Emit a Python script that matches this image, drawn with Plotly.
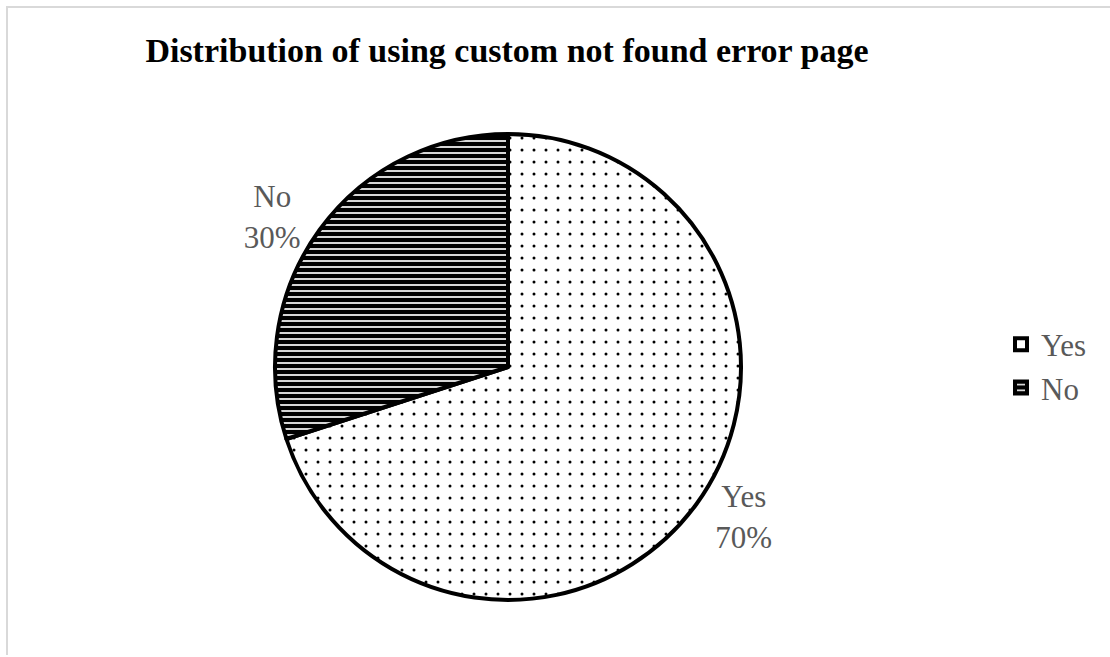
import plotly.graph_objects as go

# Survey answers and their shares (percent)
categories = ["Yes", "No"]
shares = [70, 30]
title_text = "Distribution of using custom not found error page"

W, H = 1110, 657

fig = go.Figure(
    go.Pie(
        labels=categories,
        values=shares,
        sort=False,
        direction="clockwise",
        rotation=0,
        texttemplate="%{label}<br>%{percent:.0%}",
        textposition="outside",
        textfont=dict(family="Liberation Serif", size=31, color="#595959"),
        marker=dict(
            colors=["white", "black"],
            line=dict(color="black", width=4),
            pattern=dict(
                shape=[".", "-"],
                fgcolor=["black", "white"],
                bgcolor=["white", "black"],
                size=[12, 6],
                solidity=[0.05, 0.28],
            ),
        ),
        domain=dict(x=[275 / W, 741 / W], y=[1 - 600 / H, 1 - 134 / H]),
        hoverinfo="label+percent",
    )
)

# Light frame around the chart area (top and left edges)
fig.add_shape(
    type="path",
    path=f"M {7 / W} {1 - 655 / H} L {7 / W} {1 - 7 / H} L 1 {1 - 7 / H}",
    xref="paper",
    yref="paper",
    line=dict(color="#d9d9d9", width=2),
)

fig.update_layout(
    width=W,
    height=H,
    margin=dict(l=0, r=0, t=0, b=0),
    paper_bgcolor="white",
    plot_bgcolor="white",
    title=dict(
        text=f"<b>{title_text}</b>",
        font=dict(family="Liberation Serif", size=34, color="black"),
        x=507 / W,
        xanchor="center",
        y=1 - 50 / H,
        yanchor="middle",
    ),
    legend=dict(
        x=1001 / W,
        y=1 - 366 / H,
        xanchor="left",
        yanchor="middle",
        font=dict(family="Liberation Serif", size=31, color="#595959"),
        itemwidth=30,
        tracegroupgap=0,
    ),
)

fig.write_html("out.html")
